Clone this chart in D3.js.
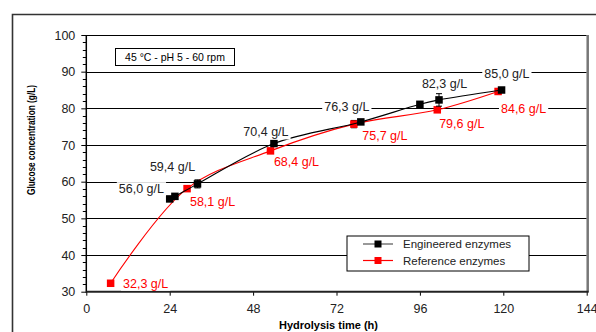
<!DOCTYPE html>
<html>
<head>
<meta charset="utf-8">
<script src="https://cdn.jsdelivr.net/npm/d3@7"></script>
<style>
  body { margin: 0; background: #fff; }
  text { font-family: "Liberation Sans", Arial, sans-serif; }
</style>
</head>
<body>
<div id="main"></div>
<script>
var ctx = {
    w: 596,
    h: 332,
    left: 86.3,
    right: 586.7,
    top: 35,
    bottom: 291.7
};

// hydrolysis time (h) and glucose (g/L)
var hoursEng = [24, 25.5, 32, 54, 79, 96, 101.5, 119.5];
var glucoseEng = [55.3, 56.0, 59.4, 70.4, 76.3, 81.1, 82.3, 85.0];
var errEng = [0, 0, 1.1, 0, 0, 0, 1.7, 0];
var labelledEng = [false, true, true, true, true, false, true, true];

var hoursRef = [7, 29, 53, 77, 101, 118.5];
var glucoseRef = [32.3, 58.1, 68.4, 75.7, 79.6, 84.6];
var errRef = [0, 0, 0, 1.0, 0, 0];

var xTicks = [0, 24, 48, 72, 96, 120, 144];
var yTicks = [30, 40, 50, 60, 70, 80, 90, 100];
var seriesNames = ["Engineered enzymes", "Reference enzymes"];
var conditions = "45 \u00b0C - pH 5 - 60 rpm";

// where each value label sits, relative to its point (layout only)
var offEng = [[0, 0], [-33.5, -7.7], [-25, -17], [-8, -11.6], [-14, -15.3], [0, 0], [5.5, -16], [5.3, -16.5]];
var offRef = [[35, 0], [25.5, 13], [26, 11], [31, 11.7], [24.5, 13.6], [25.5, 17.5]];

var fmt = function(v){ return d3.format(".1f")(v).replace(".", ",") + " g/L"; };

var svg = d3.select("#main").append("svg")
    .attr("width", ctx.w)
    .attr("height", ctx.h);

// outer frame
svg.append("path")
    .attr("d", "M12.5," + ctx.h + "V14.5H" + ctx.w)
    .attr("fill", "none")
    .attr("stroke", "#333")
    .attr("stroke-width", 1.6);

var x = d3.scaleLinear().domain([0, 144]).range([ctx.left, ctx.right]);
var y = d3.scaleLinear().domain([30, 100]).range([ctx.bottom, ctx.top]);

// gridlines
svg.append("g").selectAll("line")
    .data(yTicks.filter(function(d){ return d > 30; }))
    .enter()
    .append("line")
    .attr("x1", ctx.left).attr("x2", ctx.right)
    .attr("y1", function(d){ return Math.round(y(d)) + 0.5; })
    .attr("y2", function(d){ return Math.round(y(d)) + 0.5; })
    .attr("stroke", "#000")
    .attr("stroke-width", 1);

// right border of plot area
svg.append("line")
    .attr("x1", ctx.right + 1).attr("x2", ctx.right + 1)
    .attr("y1", ctx.top).attr("y2", ctx.bottom)
    .attr("stroke", "#777").attr("stroke-width", 2.5);

// y axis
var yAxis = d3.axisLeft(y).tickValues(yTicks).tickSize(5).tickPadding(6);
var gy = svg.append("g")
    .attr("transform", "translate(" + ctx.left + ",0)")
    .call(yAxis);
gy.select(".domain").remove();
gy.selectAll(".tick text").style("font-size", "12.5px").attr("fill", "#222");
gy.append("g").selectAll("line")
    .data(d3.range(30, 100.1, 2).filter(function(d){ return d % 10 != 0; }))
    .enter()
    .append("line")
    .attr("x1", -3.5).attr("x2", 0)
    .attr("y1", function(d){ return Math.round(y(d)) + 0.5; })
    .attr("y2", function(d){ return Math.round(y(d)) + 0.5; })
    .attr("stroke", "#000");
gy.append("line")
    .attr("x1", 0).attr("x2", 0)
    .attr("y1", ctx.top).attr("y2", ctx.bottom + 1)
    .attr("stroke", "#000").attr("stroke-width", 1.5);

// x axis
var xAxis = d3.axisBottom(x).tickValues(xTicks).tickSize(4).tickPadding(8);
var gx = svg.append("g")
    .attr("transform", "translate(0," + ctx.bottom + ")")
    .call(xAxis);
gx.select(".domain").remove();
gx.selectAll(".tick text").style("font-size", "12.5px").attr("fill", "#222");
gx.append("line")
    .attr("x1", ctx.left).attr("x2", ctx.right + 2)
    .attr("y1", 0).attr("y2", 0)
    .attr("stroke", "#222").attr("stroke-width", 2);

// axis titles
svg.append("text")
    .attr("x", 328.5).attr("y", 329)
    .attr("text-anchor", "middle")
    .style("font-size", "11px").style("font-weight", "bold")
    .text("Hydrolysis time (h)");
svg.append("text")
    .attr("transform", "translate(35,140) rotate(-90) scale(1,1.3)")
    .attr("text-anchor", "middle")
    .style("font-size", "8.3px").style("font-weight", "bold")
    .text("Glucose concentration (g/L)");

// conditions box
var cond = svg.append("g");
cond.append("rect")
    .attr("x", 115.5).attr("y", 48.5).attr("width", 119).attr("height", 17)
    .attr("fill", "#fff").attr("stroke", "#000");
cond.append("text")
    .attr("x", 175).attr("y", 61)
    .attr("text-anchor", "middle")
    .style("font-size", "10.5px")
    .text(conditions);

var line = d3.line()
    .x(function(d){ return x(d[0]); })
    .y(function(d){ return y(d[1]); })
    .curve(d3.curveCatmullRom.alpha(0.5));

var engPts = d3.zip(hoursEng, glucoseEng, errEng);
var refPts = d3.zip(hoursRef, glucoseRef, errRef);

var drawSeries = function(pts, color, z){
    var g = svg.append("g");
    g.append("path")
        .datum(pts)
        .attr("d", line)
        .attr("fill", "none")
        .attr("stroke", color)
        .attr("stroke-width", 1.1);
    g.selectAll("path.err")
        .data(pts.filter(function(d){ return d[2] > 0; }))
        .enter()
        .append("path")
        .attr("class", "err")
        .attr("d", function(d){
            var cx = x(d[0]), y0 = y(d[1] - d[2]), y1 = y(d[1] + d[2]);
            return "M" + (cx - 3) + "," + y1 + "H" + (cx + 3) + "M" + cx + "," + y1 + "V" + y0 + "M" + (cx - 3) + "," + y0 + "H" + (cx + 3);
        })
        .attr("stroke", "#000").attr("stroke-width", 1).attr("fill", "none");
    g.selectAll("rect.pt")
        .data(pts)
        .enter()
        .append("rect")
        .attr("class", "pt")
        .attr("x", function(d){ return x(d[0]) - z / 2; })
        .attr("y", function(d){ return y(d[1]) - z / 2; })
        .attr("width", z).attr("height", z)
        .attr("fill", color);
    return g;
};

drawSeries(refPts, "#ff0000", 7.5);
drawSeries(engPts, "#000", 7.5);

// value labels with white background
var drawLabels = function(pts, offs, show, color){
    pts.forEach(function(d, i){
        if (show && !show[i]) return;
        var g = svg.append("g");
        var t = g.append("text")
            .attr("x", x(d[0]) + offs[i][0])
            .attr("y", y(d[1]) + offs[i][1])
            .attr("dy", "0.36em")
            .attr("text-anchor", "middle")
            .attr("fill", color)
            .style("font-size", "12.5px")
            .text(fmt(d[1]));
        var b = t.node().getBBox();
        g.insert("rect", "text")
            .attr("x", b.x - 2).attr("y", b.y)
            .attr("width", b.width + 4).attr("height", b.height)
            .attr("fill", "#fff");
    });
};
drawLabels(engPts, offEng, labelledEng, "#222");
drawLabels(refPts, offRef, null, "#ff0000");

// legend
var leg = svg.append("g");
leg.append("rect")
    .attr("x", 347).attr("y", 236).attr("width", 182).attr("height", 35)
    .attr("fill", "#fff").attr("stroke", "#000");
var legColors = [["#555", "#000"], ["#ff0000", "#ff0000"]];
seriesNames.forEach(function(name, i){
    var ly = 244 + i * 16.5;
    leg.append("line")
        .attr("x1", 363).attr("x2", 393)
        .attr("y1", ly).attr("y2", ly)
        .attr("stroke", legColors[i][0]).attr("stroke-width", 1.2);
    leg.append("rect")
        .attr("x", 374.5).attr("y", ly - 3.5).attr("width", 7).attr("height", 7)
        .attr("fill", legColors[i][1]);
    leg.append("text")
        .attr("x", 403).attr("y", ly).attr("dy", "0.36em")
        .style("font-size", "11.5px")
        .attr("fill", "#222")
        .text(name);
});
</script>
</body>
</html>
